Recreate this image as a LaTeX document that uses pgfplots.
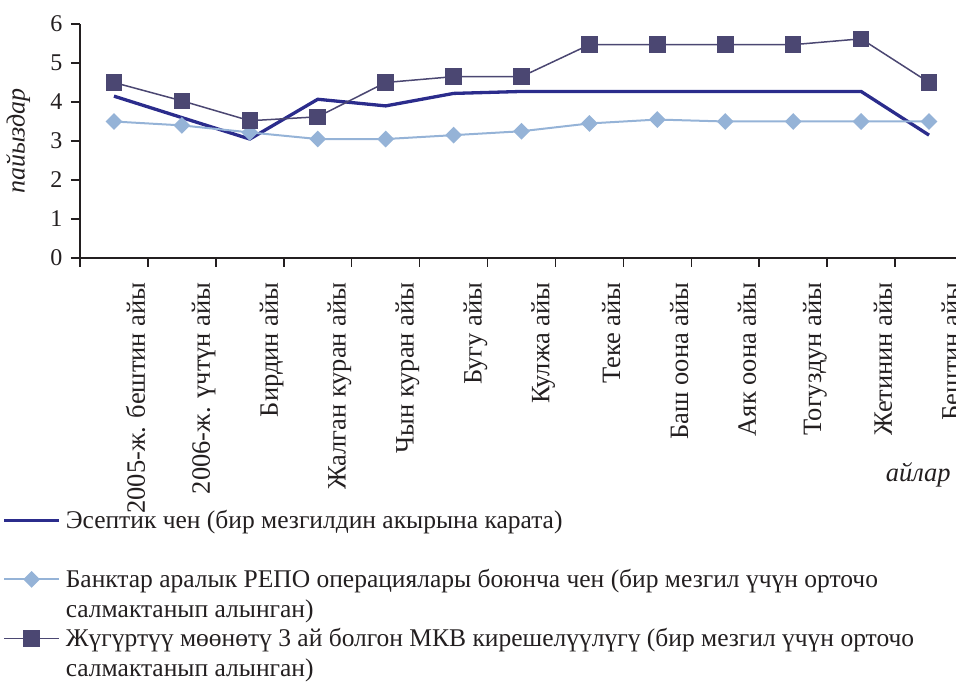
\documentclass[border=0pt]{standalone}
\usepackage{fontspec}
\setmainfont{Liberation Serif}
\newfontfamily\lserif{Liberation Serif}
\usepackage{pgfplots}
\pgfplotsset{compat=1.18}
\definecolor{navyc}{HTML}{2B2C8C}
\definecolor{lblue}{HTML}{95B3D7}
\definecolor{slate}{HTML}{4B4772}
\definecolor{axcol}{HTML}{231F20}
\pgfplotstableread{
x y
0 4.15
1 3.60
2 3.05
3 4.07
4 3.90
5 4.22
6 4.27
7 4.27
8 4.27
9 4.27
10 4.27
11 4.27
12 3.15
}\tnavy
\pgfplotstableread{
x y
0 3.50
1 3.40
2 3.22
3 3.05
4 3.05
5 3.15
6 3.25
7 3.45
8 3.55
9 3.50
10 3.50
11 3.50
12 3.50
}\tblue
\pgfplotstableread{
x y
0 4.50
1 4.03
2 3.52
3 3.62
4 4.50
5 4.65
6 4.65
7 5.47
8 5.47
9 5.47
10 5.47
11 5.62
12 4.50
}\tsq
\begin{document}
\lserif
\begin{tikzpicture}[x=1pt,y=1pt]
\useasboundingbox (0,0) rectangle (956,682);
\begin{axis}[
  at={(80pt,424pt)}, anchor=south west,
  scale only axis, width=883pt, height=234pt,
  xmin=-0.5, xmax=12.5, ymin=0, ymax=6,
  axis lines*=left,
  axis line style={-, axcol, line width=1.5pt},
  tick style={axcol, line width=1.5pt},
  tick align=outside, major tick length=9pt,
  ytick={0,1,...,6},
  xtick={-0.5,0.5,...,12.5},
  xticklabels={},
  /pgf/number format/assume math mode=true,
  tick label style={font=\lserif\fontsize{24}{27}\selectfont, text=axcol},
  yticklabel style={xshift=-5pt},
  extra x ticks={0.32,1.32,2.32,3.32,4.32,5.32,6.32,7.32,8.32,9.32,10.32,11.32,12.32},
  extra x tick labels={2005-ж. бештин айы\hspace{-11pt},2006-ж. үчтүн айы\hspace{-16pt},Бирдин айы,Жалган куран айы,Чын куран айы,Бугу айы,Кулжа айы,Теке айы,Баш оона айы,Аяк оона айы,Тогуздун айы,Жетинин айы,Бештин айы},
  extra x tick style={major tick length=0pt, tick label style={rotate=90, anchor=east, xshift=-21pt, font=\lserif\fontsize{26.5}{29}\selectfont}},
  ylabel={\itshape пайыздар},
  ylabel style={at={(axis description cs:-0.07,0.5)}, anchor=center, font=\lserif\fontsize{26}{29}\selectfont, text=axcol},
  xlabel={\itshape айлар},
  xlabel style={at={(axis description cs:0.99,-0.927)}, anchor=east, font=\lserif\fontsize{26.5}{29}\selectfont, text=axcol},
  clip=false,
  legend image code/.code={\draw[mark repeat=2, mark phase=2, #1] plot coordinates {(0pt,8pt) (27.5pt,8pt) (55pt,8pt)};},
  legend style={at={(axis description cs:-0.088,-1.077)}, anchor=north west, draw=none, fill=none, inner sep=0pt, row sep=5.6pt,
    font=\lserif\fontsize{25.5}{28}\selectfont, text=axcol, nodes={anchor=base west, inner sep=0pt, inner xsep=5pt, text height=18pt, text depth=6pt}},
]
\addplot[navyc, line width=3.3pt, no marks] table[x=x,y=y]{\tnavy};
\addlegendentry{Эсептик чен (бир мезгилдин акырына карата)}
\addlegendimage{empty legend}
\addlegendentry{}
\addplot[lblue, line width=2pt, mark=diamond*, mark size=7pt, mark options={xscale=1.33, solid, fill=lblue, draw=lblue}] table[x=x,y=y]{\tblue};
\addlegendentry{Банктар аралык РЕПО операциялары боюнча чен (бир мезгил үчүн орточо}
\addlegendimage{empty legend}
\addlegendentry{салмактанып алынган)}
\addplot[slate, line width=1.5pt, mark=square*, mark size=7.5pt, mark options={solid, fill=slate, draw=slate}] table[x=x,y=y]{\tsq};
\addlegendentry{Жүгүртүү мөөнөтү 3 ай болгон МКВ кирешелүүлүгү (бир мезгил үчүн орточо}
\addlegendimage{empty legend}
\addlegendentry{салмактанып алынган)}
\end{axis}
\end{tikzpicture}
\end{document}
